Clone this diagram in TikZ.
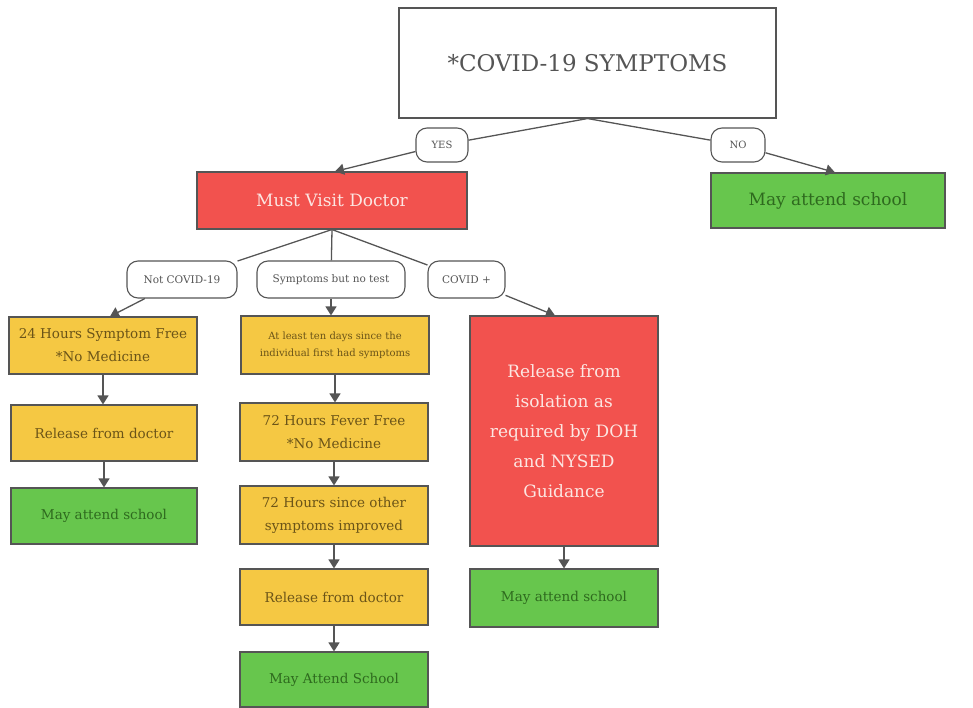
\documentclass[tikz,border=0pt]{standalone}
\usepackage{fontspec}
\setmainfont{DejaVu Serif}
\usetikzlibrary{arrows.meta}
\definecolor{cred}{HTML}{F2524E}
\definecolor{cyel}{HTML}{F5C843}
\definecolor{cgrn}{HTML}{67C64D}
\definecolor{cline}{HTML}{555555}
\definecolor{tyel}{HTML}{6B5418}
\definecolor{tgrn}{HTML}{2E6A1E}
\definecolor{tred}{HTML}{FCE6E2}
\tikzset{
  x=1pt,y=1pt,
  boxbase/.style={draw=cline,line width=1.1pt,inner sep=0pt,align=center},
  redbox/.style={boxbase,fill=cred,text=tred},
  yelbox/.style={boxbase,fill=cyel,text=tyel},
  grnbox/.style={boxbase,fill=cgrn,text=tgrn},
  lbl/.style={draw=cline,line width=1.1pt,rounded corners=11pt,fill=white,inner sep=0pt,text=cline,font=\fontsize{10.5}{12}\selectfont},
  conn/.style={draw=cline,line width=1.3pt},
  arr/.style={conn,-{Triangle[width=11pt,length=9pt]}}
}
\begin{document}
\begin{tikzpicture}
\useasboundingbox (0,0) rectangle (973,-708);
% top
\node[boxbase,fill=white,text=cline,minimum width=377,minimum height=110,font=\fontsize{23}{26}\selectfont] (top) at (587.5,-63) {*COVID-19 SYMPTOMS};
\node[lbl,minimum width=52,minimum height=34,font=\fontsize{10}{12}\selectfont] (yes) at (442,-145) {YES};
\node[lbl,minimum width=54,minimum height=34,font=\fontsize{10}{12}\selectfont] (no) at (738,-145) {NO};
\node[redbox,minimum width=270,minimum height=57,font=\fontsize{17}{20}\selectfont] (mvd) at (332,-200.5) {Must Visit Doctor};
\node[grnbox,minimum width=234,minimum height=55,font=\fontsize{17}{20}\selectfont] (may1) at (828,-200.5) {May attend school};
% second level labels
\node[lbl,minimum width=110,minimum height=37] (nc) at (182,-279.5) {Not COVID-19};
\node[lbl,minimum width=148,minimum height=37] (snt) at (331,-279.5) {Symptoms but no test};
\node[lbl,minimum width=77,minimum height=37] (cp) at (466.5,-279.5) {COVID +};
% left column
\node[yelbox,minimum width=188,minimum height=57,font=\fontsize{13.5}{23}\selectfont] (b1) at (103,-345.5) {24 Hours Symptom Free\\*No Medicine};
\node[yelbox,minimum width=186,minimum height=56,font=\fontsize{13.5}{16}\selectfont] (b2) at (104,-433) {Release from doctor};
\node[grnbox,minimum width=186,minimum height=56,font=\fontsize{13.5}{16}\selectfont] (b3) at (104,-516) {May attend school};
% middle column
\node[yelbox,minimum width=188,minimum height=58,font=\fontsize{10}{17}\selectfont] (m1) at (335,-345) {At least ten days since the\\individual first had symptoms};
\node[yelbox,minimum width=188,minimum height=58,font=\fontsize{13.5}{23}\selectfont] (m2) at (334,-432) {72 Hours Fever Free\\*No Medicine};
\node[yelbox,minimum width=188,minimum height=58,font=\fontsize{13.5}{23}\selectfont] (m3) at (334,-515) {72 Hours since other\\symptoms improved};
\node[yelbox,minimum width=188,minimum height=56,font=\fontsize{13.5}{16}\selectfont] (m4) at (334,-597) {Release from doctor};
\node[grnbox,minimum width=188,minimum height=55,font=\fontsize{13.5}{16}\selectfont] (m5) at (334,-679.5) {May Attend School};
% right column
\node[redbox,minimum width=188,minimum height=230,font=\fontsize{17}{30}\selectfont] (r1) at (564,-431) {Release from\\isolation as\\required by DOH\\and NYSED\\Guidance};
\node[grnbox,minimum width=188,minimum height=58,font=\fontsize{13.5}{16}\selectfont] (r2) at (564,-598) {May attend school};
% connectors
\coordinate (ts) at (top.south);
\draw[conn] (ts) -- (yes);
\draw[arr] (yes) -- ([xshift=3pt]mvd.north);
\draw[conn] (ts) -- (no);
\draw[arr] (no) -- ([xshift=7pt]may1.north);
\coordinate (ms) at (mvd.south);
\draw[conn] (ms) -- (nc);
\draw[conn] (ms) -- (snt);
\draw[conn] (ms) -- (cp);
\draw[arr] (nc) -- ([xshift=7pt]b1.north);
\draw[arr] (snt.south) -- (snt.south |- m1.north);
\draw[arr] (cp) -- ([xshift=-9pt]r1.north);
\draw[arr] (b1.south) -- (b1.south |- b2.north);
\draw[arr] (b2.south) -- (b2.south |- b3.north);
\draw[arr] (m1.south) -- (m1.south |- m2.north);
\draw[arr] (m2.south) -- (m2.south |- m3.north);
\draw[arr] (m3.south) -- (m3.south |- m4.north);
\draw[arr] (m4.south) -- (m4.south |- m5.north);
\draw[arr] (r1.south) -- (r1.south |- r2.north);
\end{tikzpicture}
\end{document}
